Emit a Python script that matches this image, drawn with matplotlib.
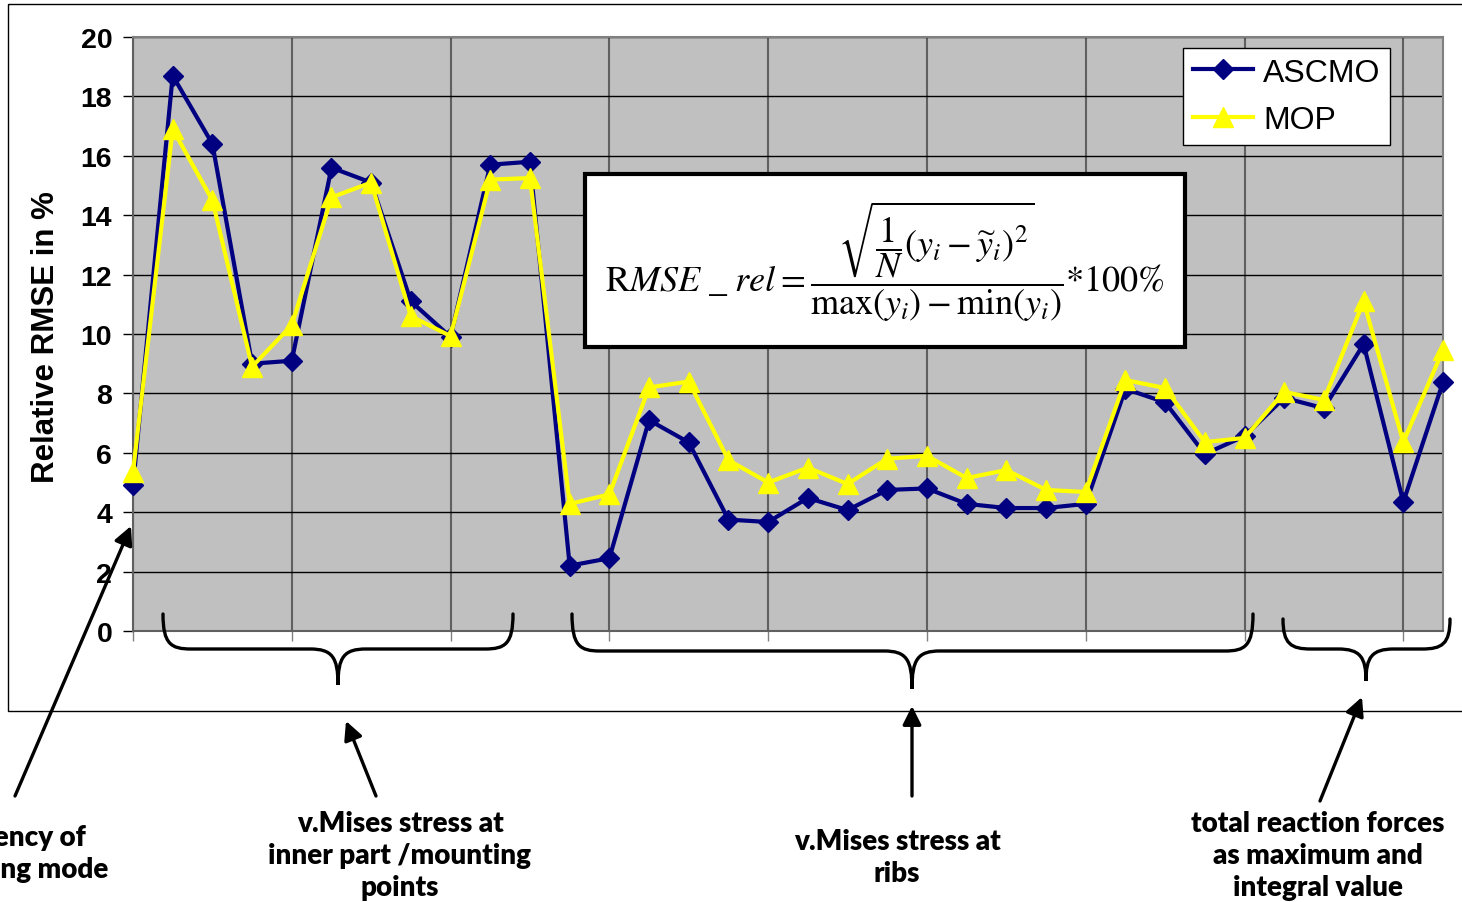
import numpy as np
import matplotlib
matplotlib.use('Agg')
import matplotlib.pyplot as plt
from matplotlib.path import Path
from matplotlib.patches import PathPatch, Rectangle

# ── data ─────────────────────────────────────────────────
ascmo = [4.9, 18.7, 16.4, 9.0, 9.1, 15.6, 15.1, 11.1, 9.9, 15.7, 15.8,
         2.2, 2.45, 7.1, 6.35, 3.75, 3.67, 4.48, 4.07, 4.75, 4.8, 4.28,
         4.14, 4.14, 4.28, 8.15, 7.7, 5.96, 6.56, 7.85, 7.5, 9.66, 4.34, 8.38]
mop = [5.35, 16.9, 14.5, 8.9, 10.3, 14.6, 15.1, 10.6, 9.93, 15.2, 15.25,
       4.28, 4.6, 8.2, 8.4, 5.75, 5.0, 5.5, 4.95, 5.8, 5.9, 5.15,
       5.42, 4.75, 4.68, 8.45, 8.18, 6.36, 6.5, 8.05, 7.78, 11.1, 6.36, 9.46]
series_names = ['ASCMO', 'MOP']
y_ticks = list(range(0, 21, 2))
group_labels = ['frequency of', 'bending mode',
                'v.Mises stress at\ninner part /mounting\npoints',
                'v.Mises stress at\nribs',
                'total reaction forces\nas maximum and\nintegral value']
formula = (r'$\mathrm{R}MSE\ \_\ rel = '
           r'\dfrac{\sqrt{\dfrac{1}{N}(y_i-\widetilde{y}_i)^2}}{\max(y_i)-\min(y_i)}'
           r'{*}100\%$')

W, H = 1462, 903
ARIAL_B = dict(family=['Liberation Sans', 'DejaVu Sans'], weight='bold')
NOTE = dict(family=['Lato', 'DejaVu Sans'], weight='heavy')

plt.rcParams['mathtext.fontset'] = 'stix'

fig = plt.figure(figsize=(W / 100, H / 100), dpi=100)
ax = fig.add_axes([133 / W, 1 - 632 / H, (1443 - 133) / W, (632 - 38) / H])
ax.set_facecolor('#C0C0C0')

x = np.arange(len(ascmo))
ax.plot(x, ascmo, color='#000080', lw=3, marker='D', markersize=10.5,
        label=series_names[0], clip_on=False, zorder=3)
ax.plot(x, mop, color='#FFFF00', lw=3, marker='^', markersize=15,
        label=series_names[1], clip_on=False, zorder=4)

ax.set_xlim(0, len(ascmo) - 1)
ax.set_ylim(0, 20)
ax.set_yticks(y_ticks)
ax.set_xticks(np.arange(0, len(ascmo), 4))
ax.set_xticklabels([])
ax.set_yticklabels([str(t) for t in y_ticks], fontsize=20.5, **ARIAL_B)
ax.tick_params(axis='y', direction='out', length=7, width=1, pad=8, colors='k')
ax.tick_params(axis='x', direction='out', length=7, width=1, color='#808080')
ax.set_axisbelow(True)
ax.yaxis.grid(True, color='k', lw=1)
ax.xaxis.grid(True, color='#606060', lw=1.5)
for s in ax.spines.values():
    s.set_color('#808080')
    s.set_linewidth(1.5)
ax.spines['left'].set_color('#606060')
ax.spines['bottom'].set_color('#606060')

ax.set_ylabel('Relative RMSE in %', fontsize=22.5, **ARIAL_B)
ax.yaxis.set_label_coords(-0.055, 0.497)

leg = ax.legend(loc='upper right', bbox_to_anchor=(0.9595, 0.9815), borderaxespad=0,
                fancybox=False, framealpha=1, edgecolor='k', numpoints=1,
                handlelength=1.9,
                prop=dict(family=['Liberation Sans', 'DejaVu Sans'], size=23),
                labelspacing=0.55, borderpad=0.3, handletextpad=0.3)
leg.get_frame().set_linewidth(1)

# ── overlay in pixel coordinates for annotations ─────────
ov = fig.add_axes([0, 0, 1, 1], zorder=10)
ov.set_xlim(0, W)
ov.set_ylim(H, 0)
ov.axis('off')

# chart area border
ov.add_patch(Rectangle((8, 5), W, 707, fill=False, ec='k', lw=1))

# formula box
ov.add_patch(Rectangle((585, 175), 600, 173, fc='white', ec='k', lw=3))
ov.text(885, 262, formula, ha='center', va='center', fontsize=26)


def brace(x0, x1, y0, ym, tip_x, tip_y):
    r = 28
    verts = [(x0, y0), (x0, ym - 5), (x0 + 8, ym), (x0 + r, ym),
             (tip_x - r, ym),
             (tip_x - 6, ym), (tip_x, ym + 8), (tip_x, tip_y),
             (tip_x, ym + 8), (tip_x + 6, ym), (tip_x + r, ym),
             (x1 - r, ym),
             (x1 - 8, ym), (x1, ym - 5), (x1, y0)]
    codes = [Path.MOVETO, Path.CURVE4, Path.CURVE4, Path.CURVE4,
             Path.LINETO,
             Path.CURVE4, Path.CURVE4, Path.CURVE4,
             Path.CURVE4, Path.CURVE4, Path.CURVE4,
             Path.LINETO,
             Path.CURVE4, Path.CURVE4, Path.CURVE4]
    ov.add_patch(PathPatch(Path(verts, codes), fill=False, ec='k', lw=2.4,
                           capstyle='round'))


brace(163, 513, 615, 650, 338, 686)
brace(572, 1253, 615, 652, 912, 690)
brace(1283, 1450, 620, 650, 1366, 682)

arrows = [((15, 797), (131, 527)), ((376, 797), (346, 722)),
          ((912, 797), (912, 707)), ((1320, 802), (1362, 698))]
for tail, head in arrows:
    ov.annotate('', xy=head, xytext=tail,
                arrowprops=dict(arrowstyle='-|>', lw=2.4, color='k',
                                mutation_scale=28, shrinkA=0, shrinkB=0))

ov.text(86, 838, group_labels[0], ha='right', va='center', fontsize=20, **NOTE)
ov.text(108, 870, group_labels[1], ha='right', va='center', fontsize=20, **NOTE)
ov.text(400, 856, group_labels[2], ha='center', va='center', fontsize=20,
        linespacing=1.3, **NOTE)
ov.text(897, 858, group_labels[3], ha='center', va='center', fontsize=20,
        linespacing=1.3, **NOTE)
ov.text(1318, 856, group_labels[4], ha='center', va='center', fontsize=20,
        linespacing=1.3, **NOTE)

fig.savefig('out.png', dpi=100)
